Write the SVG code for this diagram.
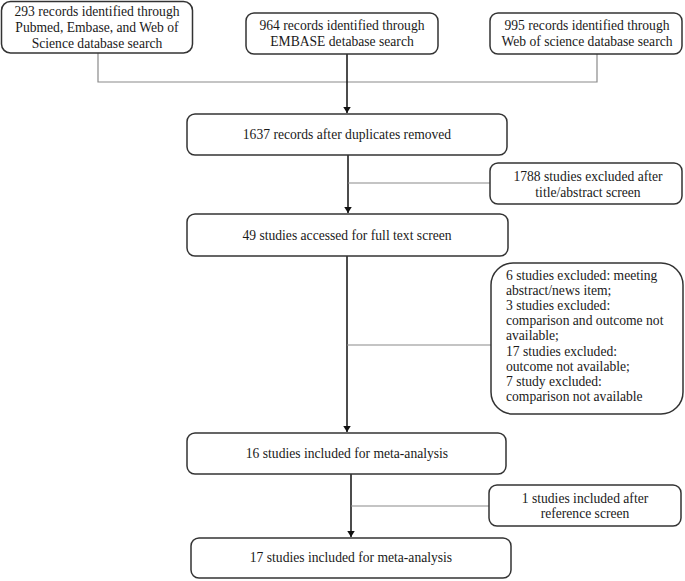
<svg xmlns="http://www.w3.org/2000/svg" width="685" height="581" viewBox="0 0 685 581">
<style>
.box{fill:#fff;stroke:#333;stroke-width:1.5}
.t{font-family:"Liberation Serif","Times New Roman",serif;font-size:13.6px;fill:#1a1a1a}
.c{text-anchor:middle}
.thin{stroke:#8a8a8a;stroke-width:1.2;fill:none}
.arr{stroke:#111;stroke-width:1.5;fill:none;marker-end:url(#ah)}
</style>
<defs>
<marker id="ah" viewBox="0 0 8 10" refX="8" refY="5" markerWidth="6" markerHeight="7.5" orient="auto" markerUnits="userSpaceOnUse">
<path d="M0,0 L8,5 L0,10 z" fill="#111"/>
</marker>
</defs>
<rect width="685" height="581" fill="#fff"/>
<g id="connectors">
<polyline class="thin" points="98,53 98,82 597,82 597,54"/>
<line class="arr" x1="347" y1="54" x2="347" y2="113"/>
<line class="arr" x1="348" y1="155" x2="348" y2="213"/>
<line class="thin" x1="348" y1="183" x2="490" y2="183"/>
<line class="arr" x1="347" y1="256" x2="347" y2="432"/>
<line class="thin" x1="347" y1="345" x2="491" y2="345"/>
<line class="arr" x1="351" y1="474" x2="351" y2="537"/>
<line class="thin" x1="351" y1="506" x2="489" y2="506"/>
</g>
<g id="n1">
<rect class="box" x="1.5" y="1.5" width="191" height="51.5" rx="9"/>
<text class="t c" x="97" y="16">293 records identified through</text>
<text class="t c" x="97" y="32">Pubmed, Embase, and Web of</text>
<text class="t c" x="97" y="47.5">Science database search</text>
</g>
<g id="n2">
<rect class="box" x="246" y="13" width="192" height="41" rx="8"/>
<text class="t c" x="342" y="30">964 records identified through</text>
<text class="t c" x="342" y="46">EMBASE detabase search</text>
</g>
<g id="n3">
<rect class="box" x="490" y="13" width="192" height="41" rx="8"/>
<text class="t c" x="587" y="30">995 records identified through</text>
<text class="t c" x="587" y="46">Web of science database search</text>
</g>
<g id="n4">
<rect class="box" x="187" y="114" width="320" height="41" rx="8"/>
<text class="t c" x="347" y="139">1637 records after duplicates removed</text>
</g>
<g id="n5">
<rect class="box" x="490" y="163" width="192" height="41" rx="8"/>
<text class="t c" x="588" y="181">1788 studies excluded after</text>
<text class="t c" x="588" y="197">title/abstract screen</text>
</g>
<g id="n6">
<rect class="box" x="187" y="214" width="321" height="42" rx="8"/>
<text class="t c" x="347" y="239.5">49 studies accessed for full text screen</text>
</g>
<g id="n7">
<rect class="box" x="491" y="263" width="192" height="151" rx="22"/>
<text class="t" x="506" y="280">6 studies excluded: meeting</text>
<text class="t" x="506" y="295.1">abstract/news item;</text>
<text class="t" x="506" y="310.2">3 studies excluded:</text>
<text class="t" x="506" y="325.3">comparison and outcome not</text>
<text class="t" x="506" y="340.4">available;</text>
<text class="t" x="506" y="355.5">17 studies excluded:</text>
<text class="t" x="506" y="370.6">outcome not available;</text>
<text class="t" x="506" y="385.7">7 study excluded:</text>
<text class="t" x="506" y="400.8">comparison not available</text>
</g>
<g id="n8">
<rect class="box" x="187" y="433" width="319" height="41" rx="8"/>
<text class="t c" x="347" y="458">16 studies included for meta-analysis</text>
</g>
<g id="n9">
<rect class="box" x="489" y="485" width="192" height="41" rx="8"/>
<text class="t c" x="585" y="503">1 studies included after</text>
<text class="t c" x="585" y="518">reference screen</text>
</g>
<g id="n10">
<rect class="box" x="191" y="538" width="320" height="40" rx="8"/>
<text class="t c" x="351" y="562">17 studies included for meta-analysis</text>
</g>
</svg>
